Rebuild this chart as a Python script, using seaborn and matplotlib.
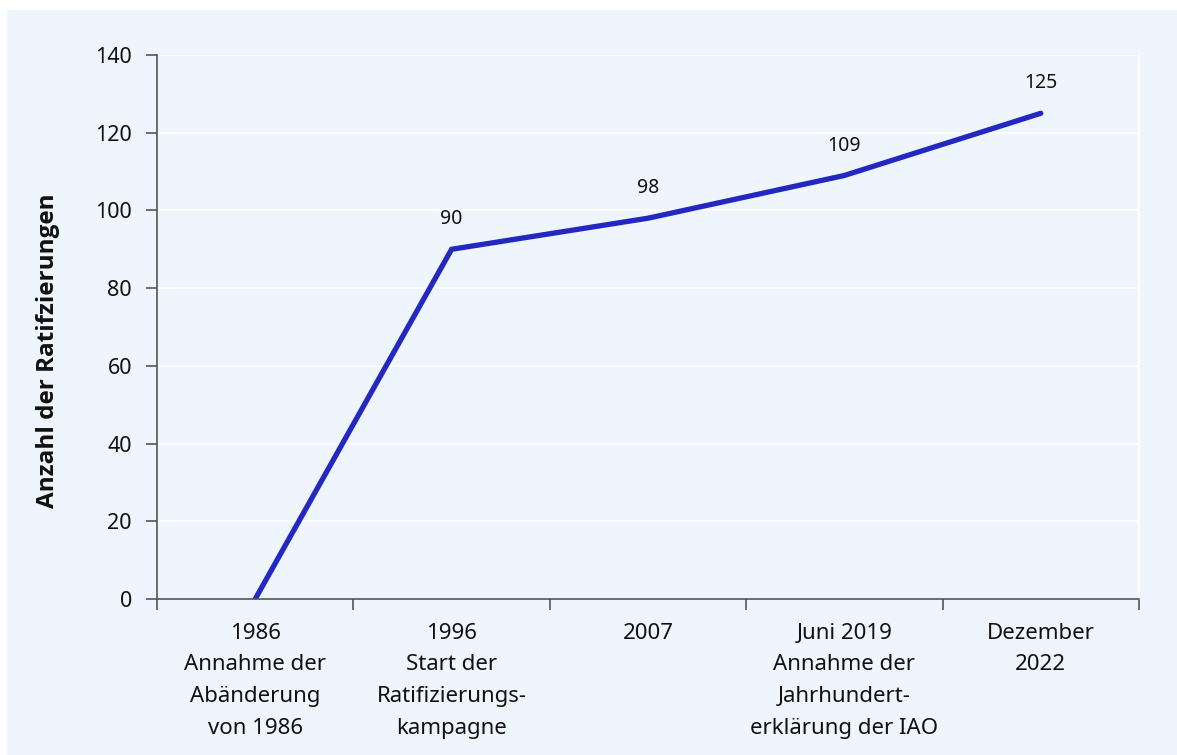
import matplotlib
matplotlib.use('Agg')
import matplotlib.pyplot as plt
import seaborn as sns
import pandas as pd
import numpy as np
from matplotlib.patches import Rectangle

# data
categories = ['1986\nAnnahme der\nAbänderung\nvon 1986',
              '1996\nStart der\nRatifizierungs-\nkampagne',
              '2007',
              'Juni 2019\nAnnahme der\nJahrhundert-\nerklärung der IAO',
              'Dezember\n2022']
ratifications = [0, 90, 98, 109, 125]
value_labels = ['', '90', '98', '109', '125']
y_ticks = [0, 20, 40, 60, 80, 100, 120, 140]

bg = '#eef5fc'
line_col = '#2228c0'
txt = '#111111'

sns.set_style('white', {'text.color': txt, 'axes.labelcolor': txt,
                        'xtick.color': txt, 'ytick.color': txt})
plt.rcParams['font.family'] = ['Noto Sans', 'DejaVu Sans']

fig = plt.figure(figsize=(11.77, 7.55), dpi=100)
fig.patch.set_facecolor('white')
fig.add_artist(Rectangle((7/1177, 0), 1 - 7/1177, 1 - 10/755,
                         transform=fig.transFigure, facecolor=bg,
                         edgecolor='none', zorder=-10))
ax = fig.add_axes([157/1177, 1 - 599/755, (1139-157)/1177, (599-55)/755])
ax.set_facecolor(bg)

df = pd.DataFrame({'pos': np.arange(len(categories)), 'n': ratifications})
sns.lineplot(data=df, x='pos', y='n', ax=ax, color=line_col, linewidth=3.8,
             solid_capstyle='round', solid_joinstyle='miter')

for p, v, t in zip(df['pos'], df['n'], value_labels):
    if t:
        ax.annotate(t, (p, v), xytext=(0, 21.5), textcoords='offset points',
                    ha='center', va='center', fontsize=14, color=txt)

ax.set_xlim(-0.5, len(categories) - 0.5)
ax.set_ylim(0, 140)
ax.set_yticks(y_ticks)
ax.set_yticklabels([str(v) for v in y_ticks], fontsize=15.5)
ax.set_xticks(np.arange(-0.5, len(categories), 1.0))
ax.set_xticklabels([])
ax.set_xticks(np.arange(len(categories)), minor=True)
ax.set_xticklabels(categories, minor=True, fontsize=16, linespacing=1.68)
ax.tick_params(axis='x', which='minor', bottom=False, length=0, pad=17, labelcolor=txt)
ax.tick_params(axis='x', which='major', bottom=True, length=8, width=1.2, color='#555555', direction='out')
ax.tick_params(axis='y', left=True, length=8, width=1.2, color='#555555', direction='out', pad=10, labelcolor=txt)

ax.grid(axis='y', color='white', linewidth=1.2)
ax.set_axisbelow(True)
for s in ['left', 'bottom']:
    ax.spines[s].set_color('#555555')
    ax.spines[s].set_linewidth(1.2)
ax.spines['top'].set_visible(False)
ax.spines['right'].set_color('white')
ax.spines['right'].set_linewidth(1.5)

ax.set_xlabel('')
ax.set_ylabel('Anzahl der Ratifzierungen', fontsize=17.5, fontweight='bold',
              family=['Open Sans', 'DejaVu Sans'], color=txt)
ax.yaxis.set_label_coords(-0.099, 0.456)

fig.savefig('out.png', dpi=100)
